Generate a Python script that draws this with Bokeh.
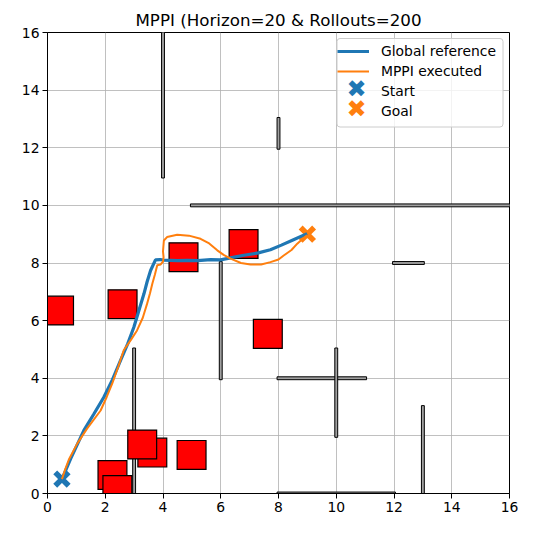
from bokeh.plotting import figure
from bokeh.models import Range1d, FixedTicker, Legend, LegendItem, Label, BoxAnnotation
from bokeh.embed import file_html
from bokeh.resources import INLINE

title_text = "MPPI (Horizon=20 & Rollouts=200"

# walls as segments (x0, y0, x1, y1)
wall_x0 = [4, 8, 5, 12, 6, 3, 8, 10, 13, 8]
wall_y0 = [11, 12, 10, 8, 4, 0, 4, 2, 0, 0]
wall_x1 = [4, 8, 16, 13, 6, 3, 11, 10, 13, 12]
wall_y1 = [16, 13, 10, 8, 8, 5, 4, 5, 3, 0]

# square obstacles (centers), drawn in this order
box_x = [0.40, 2.60, 4.71, 6.79, 7.63, 3.63, 3.28, 4.99, 2.25, 2.42]
box_y = [6.35, 6.57, 8.20, 8.66, 5.54, 1.42, 1.70, 1.34, 0.64, 0.12]
box_size = 1.0

# global reference path
ref_x = [0.5, 0.8, 1.26, 1.6, 1.95, 2.25, 2.53, 2.78, 2.99, 3.15, 3.34, 3.45, 3.57, 3.74,
         3.9, 4.03, 4.5, 4.84, 5.2, 5.65, 5.99, 6.34, 6.8, 7.3, 7.72, 8.1, 8.5, 8.99]
ref_y = [0.5, 1.2, 2.19, 2.75, 3.34, 3.95, 4.62, 5.2, 5.77, 6.3, 6.93, 7.35, 7.74, 8.11,
         8.12, 8.1, 8.08, 8.09, 8.08, 8.12, 8.11, 8.18, 8.27, 8.35, 8.46, 8.62, 8.8, 9.02]

# MPPI executed path
mppi_x = [0.5, 0.6, 0.75, 1.03, 1.37, 1.84, 2.05, 2.24, 2.45, 2.64, 2.9, 3.1, 3.3, 3.45,
          3.55, 3.63, 3.72, 3.80, 3.92, 4.0, 4.02, 4.0, 4.03, 4.14, 4.49, 4.9, 5.30, 5.6,
          5.88, 6.1, 6.34, 6.7, 7.03, 7.4, 7.72, 8.0, 8.18, 8.45, 8.65, 8.85, 8.99]
mppi_y = [0.5, 0.8, 1.2, 1.73, 2.25, 2.88, 3.35, 3.81, 4.4, 4.97, 5.35, 5.66, 6.1, 6.59,
          6.95, 7.28, 7.6, 7.92, 7.95, 8.05, 8.2, 8.4, 8.78, 8.90, 8.98, 8.95, 8.84, 8.68,
          8.44, 8.28, 8.15, 8.0, 7.95, 7.95, 8.03, 8.12, 8.26, 8.45, 8.67, 8.85, 8.96]

start_x, start_y = [0.5], [0.5]
goal_x, goal_y = [9.0], [9.0]
ticks = [0, 2, 4, 6, 8, 10, 12, 14, 16]

BLUE = "#1f77b4"
ORANGE = "#ff7f0e"
FONT = "DejaVu Sans"

FL, FT, FW, FH = 47, 32, 462, 461

p = figure(width=533, height=533, output_backend="svg", toolbar_location=None,
           x_range=Range1d(0, 16), y_range=Range1d(0, 16),
           frame_width=FW, frame_height=FH,
           min_border_left=FL, min_border_right=533 - FL - FW, min_border_top=FT,
           min_border_bottom=533 - FT - FH,
           title=title_text)
p.title.align = "center"
p.title.text_font = FONT
p.title.text_font_size = "16.7px"
p.title.text_font_style = "normal"
p.title.text_color = "black"
p.title.offset = 0
p.title.standoff = 5

p.outline_line_color = "black"
p.outline_line_width = 1
p.outline_line_alpha = 1
p.background_fill_color = "white"
p.border_fill_color = "white"

for ax in (p.xaxis, p.yaxis):
    ax.ticker = FixedTicker(ticks=ticks)
    ax.major_label_text_font = FONT
    ax.major_label_text_font_size = "13.9px"
    ax.major_label_text_color = "black"
    ax.axis_line_color = "black"
    ax.major_tick_line_color = "black"
    ax.major_tick_out = 5
    ax.major_tick_in = 0
    ax.minor_tick_line_color = None
    ax.major_label_standoff = 3

p.grid.grid_line_color = "#b0b0b0"
p.grid.grid_line_width = 0.8
p.grid.ticker = FixedTicker(ticks=ticks)

# walls
th = 0.1
wx = [(a + b) / 2 for a, b in zip(wall_x0, wall_x1)]
wy = [(a + b) / 2 for a, b in zip(wall_y0, wall_y1)]
ww = [abs(b - a) + th for a, b in zip(wall_x0, wall_x1)]
wh = [abs(b - a) + th for a, b in zip(wall_y0, wall_y1)]
p.rect(x=wx, y=wy, width=ww, height=wh, fill_color="#a0a0a0", line_color="black",
       line_width=1, line_join="miter")

# squares
p.rect(x=box_x, y=box_y, width=box_size, height=box_size,
       fill_color="red", line_color="black", line_width=1.2, line_join="miter")

# start / goal markers (under the lines)
p.scatter(start_x, start_y, marker="x", size=19, line_color=BLUE, line_width=5.5)
p.scatter(goal_x, goal_y, marker="x", size=19, line_color=ORANGE, line_width=5.5)

r_ref = p.line(ref_x, ref_y, line_color=BLUE, line_width=3.2)
r_mppi = p.line(mppi_x, mppi_y, line_color=ORANGE, line_width=2)

# invisible stand-ins for legend rows of the markers
r_start_leg = p.scatter(start_x, start_y, marker="x", size=1, line_alpha=0, fill_alpha=0)
r_goal_leg = p.scatter(goal_x, goal_y, marker="x", size=1, line_alpha=0, fill_alpha=0)

LEG_LEFT, LEG_TOP, LEG_RIGHT, LEG_BOTTOM = 337, 35, 502.5, 126.5
PAD, ROW, GW = 3, 20, 32
LEG_H = 2 * PAD + 4 * ROW

# legend frame, drawn as its own box so that the marker symbols can sit above it
frame_box = BoxAnnotation(left=336.5 - FL, right=LEG_RIGHT - FL,
                          top=FT + FH - 38, bottom=FT + FH - LEG_BOTTOM,
                          left_units="screen", right_units="screen",
                          top_units="screen", bottom_units="screen",
                          fill_color="white", fill_alpha=0.8,
                          line_color="#cccccc", line_width=1, line_alpha=1,
                          border_radius=3)
p.add_layout(frame_box)

# legend marker symbols
gx = LEG_LEFT + PAD + GW / 2 - FL
for i, col in ((2, BLUE), (3, ORANGE)):
    cy = LEG_TOP + PAD + i * ROW + ROW / 2
    lab = Label(x=gx, y=FT + FH - cy, x_units="screen", y_units="screen", text="\u2716",
                text_color=col, text_font=FONT, text_font_size="24px",
                text_align="center", text_baseline="middle")
    p.add_layout(lab)

legend = Legend(items=[
    LegendItem(label="Global reference", renderers=[r_ref]),
    LegendItem(label="MPPI executed", renderers=[r_mppi]),
    LegendItem(label="Start", renderers=[r_start_leg]),
    LegendItem(label="Goal", renderers=[r_goal_leg]),
], location=(LEG_LEFT - FL, FT + FH - (LEG_TOP + LEG_H)))
legend.label_text_font = FONT
legend.label_text_font_size = "13.9px"
legend.label_text_color = "black"
legend.border_line_color = None
legend.background_fill_alpha = 0
legend.glyph_width = GW
legend.glyph_height = ROW
legend.label_height = ROW
legend.spacing = 0
legend.padding = PAD
legend.margin = 0
legend.label_standoff = 12
p.add_layout(legend, "center")

open("out.html", "w").write(file_html(p, INLINE))
